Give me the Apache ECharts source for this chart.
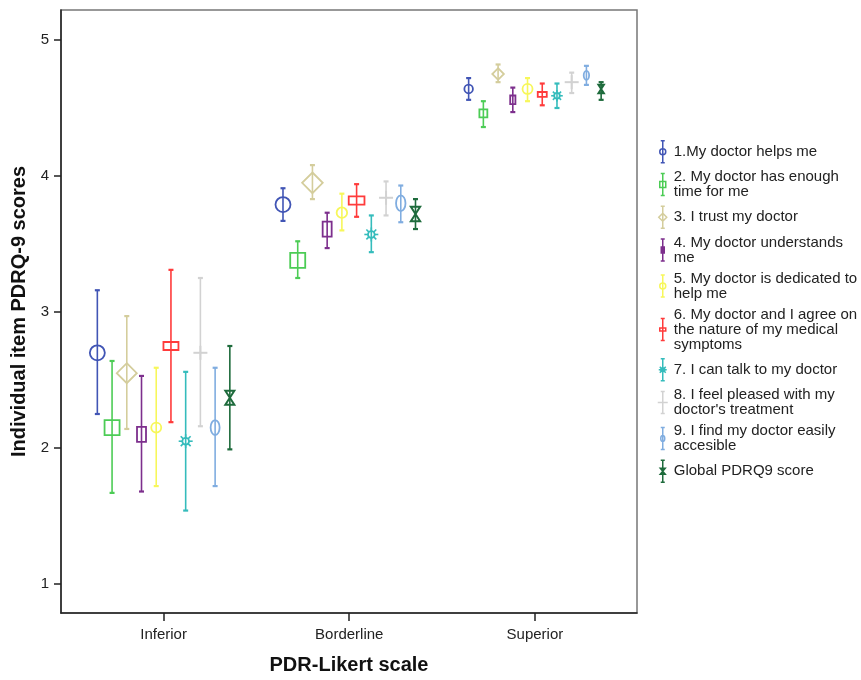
<!DOCTYPE html>
<html>
<head>
<meta charset="utf-8">
<script src="https://cdn.jsdelivr.net/npm/echarts@6/dist/echarts.min.js"></script>
<style>html,body{margin:0;padding:0;background:#fff}#chart{width:861px;height:680px}</style>
</head>
<body>
<div id="chart"></div>
<script>
// ---- data ----
const categories = ['Inferior', 'Borderline', 'Superior'];
const yTicks = [1, 2, 3, 4, 5];
const seriesNames = [
  '1.My doctor helps me',
  '2. My doctor has enough\ntime for me',
  '3. I trust my doctor',
  '4. My doctor understands\nme',
  '5. My doctor is dedicated to\nhelp me',
  '6. My doctor and I agree on\nthe nature of my medical\nsymptoms',
  '7. I can talk to my doctor',
  '8. I feel pleased with my\ndoctor\'s treatment',
  '9. I find my doctor easily\naccesible',
  'Global PDRQ9 score'
];
// mean per category (Inferior, Borderline, Superior)
const meanScores = [
  [2.70, 3.79, 4.64],
  [2.15, 3.38, 4.46],
  [2.55, 3.95, 4.75],
  [2.10, 3.61, 4.56],
  [2.15, 3.73, 4.64],
  [2.75, 3.82, 4.60],
  [2.05, 3.57, 4.59],
  [2.70, 3.84, 4.69],
  [2.15, 3.80, 4.74],
  [2.37, 3.72, 4.64]
];
const lowerCI = [
  [2.25, 3.67, 4.56],
  [1.67, 3.25, 4.36],
  [2.14, 3.83, 4.69],
  [1.68, 3.47, 4.47],
  [1.72, 3.60, 4.55],
  [2.19, 3.70, 4.52],
  [1.54, 3.44, 4.50],
  [2.16, 3.71, 4.61],
  [1.72, 3.66, 4.67],
  [1.99, 3.61, 4.56]
];
const upperCI = [
  [3.16, 3.91, 4.72],
  [2.64, 3.52, 4.55],
  [2.97, 4.08, 4.82],
  [2.53, 3.73, 4.65],
  [2.59, 3.87, 4.72],
  [3.31, 3.94, 4.68],
  [2.56, 3.71, 4.68],
  [3.25, 3.96, 4.76],
  [2.59, 3.93, 4.81],
  [2.75, 3.83, 4.69]
];

// ---- styles ----
const colors = ['#4155b5', '#4ccc55', '#d4cd9c', '#7d2f8d', '#f7f75a', '#ff3b3b', '#35bcbc', '#d2d2d2', '#80ade0', '#1e6b3c'];
const markerTypes = ['circle', 'square', 'diamond', 'rect', 'circle', 'rect', 'star', 'cross', 'ellipse', 'hourglass'];
const markerW = [15, 15, 20, 9, 10, 15, 14, 14, 9, 9];
const markerH = [15, 15, 20, 15, 10, 8, 14, 14, 15, 14];
const markerScale = [
  [1, 1, 0.57], [1, 1, 0.53], [1, 1.03, 0.58], [1, 1, 0.58], [1, 1.05, 1.0],
  [1, 1.05, 0.6], [1, 1, 0.83], [1, 1, 1.0], [1, 1.05, 0.6], [1, 1.03, 0.6]
];
const spread = 0.0793;

function markerShape(type, cx, cy, w, h, color) {
  const st = { stroke: color, fill: 'none', lineWidth: 1.8 };
  switch (type) {
    case 'circle':
    case 'ellipse':
      return { type: 'ellipse', shape: { cx, cy, rx: w / 2, ry: h / 2 }, style: st };
    case 'square':
    case 'rect':
      return { type: 'rect', shape: { x: cx - w / 2, y: cy - h / 2, width: w, height: h }, style: st };
    case 'diamond':
      return { type: 'polygon', shape: { points: [[cx, cy - h / 2], [cx + w / 2, cy], [cx, cy + h / 2], [cx - w / 2, cy]] }, style: st };
    case 'hourglass':
      return { type: 'polygon', shape: { points: [[cx - w / 2, cy - h / 2], [cx + w / 2, cy - h / 2], [cx - w / 2, cy + h / 2], [cx + w / 2, cy + h / 2]] }, style: Object.assign({}, st, { lineWidth: 2 }) };
    case 'cross':
      return { type: 'group', children: [
        { type: 'line', shape: { x1: cx - w / 2, y1: cy, x2: cx + w / 2, y2: cy }, style: Object.assign({}, st, { lineWidth: 2 }) },
        { type: 'line', shape: { x1: cx, y1: cy - h / 2, x2: cx, y2: cy + h / 2 }, style: Object.assign({}, st, { lineWidth: 2 }) }
      ] };
    case 'star': {
      const ch = [{ type: 'circle', shape: { cx, cy, r: w * 0.24 }, style: st }];
      for (let k = 0; k < 8; k++) {
        const a = k * Math.PI / 4;
        ch.push({ type: 'line', shape: { x1: cx + Math.cos(a) * w * 0.24, y1: cy + Math.sin(a) * w * 0.24, x2: cx + Math.cos(a) * w * 0.5, y2: cy + Math.sin(a) * w * 0.5 }, style: Object.assign({}, st, { lineWidth: 1.6 }) });
      }
      return { type: 'group', children: ch };
    }
  }
}

const legendIcons = [
  'path://M0 0M12 22M6 0L6 22M4 0L8 0M4 22L8 22M9 11A3 3 0 1 1 3 11A3 3 0 1 1 9 11Z',
  'path://M0 0M12 22M6 0L6 22M4 0L8 0M4 22L8 22M3 8L9 8L9 14L3 14Z',
  'path://M0 0M12 22M6 0L6 22M4 0L8 0M4 22L8 22M6 7L10 11L6 15L2 11Z',
  'path://M0 0M12 22M6 0L6 22M4 0L8 0M4 22L8 22M4.5 8L7.5 8L7.5 14L4.5 14Z',
  'path://M0 0M12 22M6 0L6 22M4 0L8 0M4 22L8 22M9 11A3 3 0 1 1 3 11A3 3 0 1 1 9 11Z',
  'path://M0 0M12 22M6 0L6 22M4 0L8 0M4 22L8 22M3 9.5L9 9.5L9 12.5L3 12.5Z',
  'path://M0 0M12 22M6 0L6 22M4 0L8 0M4 22L8 22M2 11L10 11M3 8L9 14M9 8L3 14M8 11A2 2 0 1 1 4 11A2 2 0 1 1 8 11Z',
  'path://M0 0M12 22M6 0L6 22M4 0L8 0M4 22L8 22M1 11L11 11',
  'path://M0 0M12 22M6 0L6 22M4 0L8 0M4 22L8 22M8 11A2 3 0 1 1 4 11A2 3 0 1 1 8 11Z',
  'path://M0 0M12 22M6 0L6 22M4 0L8 0M4 22L8 22M3.5 8L8.5 8L3.5 14L8.5 14Z'
];

const series = seriesNames.map((name, i) => ({
  name,
  type: 'custom',
  itemStyle: { color: colors[i] },
  data: categories.map((c, j) => [j, meanScores[i][j], lowerCI[i][j], upperCI[i][j]]),
  renderItem: function (params, api) {
    const si = params.seriesIndex;
    const cat = api.value(0);
    const x = cat + (si - 4.5) * spread;
    const pm = api.coord([x, api.value(1)]);
    const pl = api.coord([x, api.value(2)]);
    const ph = api.coord([x, api.value(3)]);
    const col = colors[si];
    const sc = markerScale[si][cat];
    const lst = { stroke: col, lineWidth: 1.6 };
    const cst = { stroke: col, lineWidth: 2.2 };
    return {
      type: 'group',
      children: [
        { type: 'line', shape: { x1: pl[0], y1: pl[1], x2: ph[0], y2: ph[1] }, style: lst },
        { type: 'line', shape: { x1: pl[0] - 2.5, y1: pl[1], x2: pl[0] + 2.5, y2: pl[1] }, style: cst },
        { type: 'line', shape: { x1: ph[0] - 2.5, y1: ph[1], x2: ph[0] + 2.5, y2: ph[1] }, style: cst },
        markerShape(markerTypes[si], pm[0], pm[1], markerW[si] * sc, markerH[si] * sc, col)
      ]
    };
  }
}));

const chart = echarts.init(document.getElementById('chart'), null, { renderer: 'canvas' });
chart.setOption({
  animation: false,
  backgroundColor: '#fff',
  textStyle: { fontFamily: 'Arial, "Liberation Sans", sans-serif' },
  grid: { left: 61, right: 224, top: 10, bottom: 67, show: true, borderColor: '#777', borderWidth: 1.5, backgroundColor: '#fff' },
  xAxis: {
    type: 'value', min: -0.5526, max: 2.55,
    splitLine: { show: false },
    axisLine: { onZero: false, lineStyle: { color: '#222', width: 1.5 } },
    axisTick: { customValues: [0, 1, 2], length: 8, lineStyle: { color: '#222', width: 1.5 } },
    axisLabel: { customValues: [0, 1, 2], formatter: v => categories[Math.round(v)], fontSize: 15, color: '#222', margin: 14 },
    name: 'PDR-Likert scale', nameLocation: 'middle', nameGap: 42,
    nameTextStyle: { fontSize: 20, fontWeight: 'bold', color: '#111' }
  },
  yAxis: {
    type: 'value', min: 0.7868, max: 5.2206,
    splitLine: { show: false },
    axisLine: { show: true, onZero: false, lineStyle: { color: '#222', width: 1.5 } },
    axisTick: { show: true, customValues: yTicks, length: 7, lineStyle: { color: '#222', width: 1.5 } },
    axisLabel: { customValues: yTicks, fontSize: 15, color: '#222', margin: 12 },
    name: 'Individual item PDRQ-9 scores', nameLocation: 'middle', nameGap: 32, nameRotate: 90,
    nameTextStyle: { fontSize: 20, fontWeight: 'bold', color: '#111' }
  },
  legend: {
    orient: 'vertical', left: 656, top: 140, padding: 0,
    itemWidth: 12, itemHeight: 22, itemGap: 6, selectedMode: false,
    textStyle: { fontSize: 15, lineHeight: 15, color: '#222' },
    data: seriesNames.map((n, i) => ({
      name: n, icon: legendIcons[i],
      itemStyle: { color: 'rgba(0,0,0,0)', borderColor: colors[i], borderWidth: 1.5 }
    }))
  },
  series
});
</script>
</body>
</html>
